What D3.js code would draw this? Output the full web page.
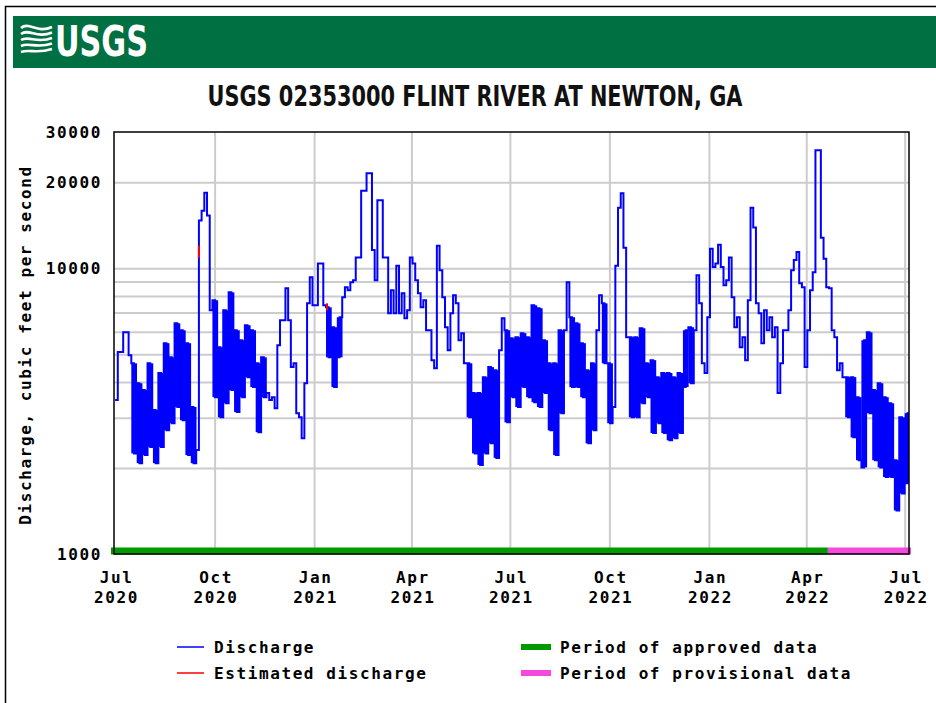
<!DOCTYPE html>
<html>
<head>
<meta charset="utf-8">
<script src="https://cdn.jsdelivr.net/npm/d3@7"></script>
<style>
  body { margin: 0; background: #fff; }
  .mono { font-family: "DejaVu Sans Mono", monospace; font-weight: bold; font-size: 16px; letter-spacing: 1.6px; fill: #000; }
</style>
</head>
<body>
<svg id="chart" width="936" height="703"></svg>
<script>
// discharge, cfs, read every 2.5 days from 1 Jul 2020 (extremes of the daily swings)
const flowStart = "2020-07-01T00:00:00Z";
const flowStepHours = 60;
const flow = [
  3460, 5090, 5090, 5970, 5970, 4960, 4650, 2250, 3960, 2080, 3750, 2220, 4650, 2370, 3190, 2080,
  4300, 2370, 5470, 2710, 4880, 2870, 6420, 3270, 6070, 2940, 5470, 2220, 3270, 2080, 2310, 14700,
  15900, 18400, 15300, 7130, 7730, 3540, 5290, 3010, 7130, 3370, 8240, 3750, 6070, 3140, 5600, 3540,
  6320, 4160, 6070, 3840, 4650, 2670, 4880, 3540, 3660, 3460, 3540, 3240, 5380, 6580, 6580, 8510,
  6580, 4510, 4650, 3110, 3010, 2540, 3960, 7540, 9300, 7420, 7420, 10400, 10400, 7420, 7300, 4880,
  6220, 3840, 4880, 6740, 7920, 8580, 8380, 8930, 9080, 10900, 10900, 18700, 18700, 21500, 21500, 11600,
  9080, 17300, 17300, 10900, 10900, 6960, 8380, 6960, 10200, 6960, 8180, 6690, 7130, 10900, 10400, 9080,
  8180, 7300, 7730, 6070, 6070, 4770, 4470, 12000, 9840, 7920, 6220, 5170, 6960, 8050, 7540, 5600,
  5930, 4650, 4650, 3010, 3660, 2250, 3660, 2050, 4160, 2250, 4510, 2440, 4400, 2170, 5170, 6690,
  6070, 2890, 5690, 3540, 5740, 3270, 5930, 3840, 5740, 3540, 7420, 3400, 7250, 3270, 5600, 3660,
  4650, 2710, 4650, 2220, 6070, 3110, 6070, 8930, 6740, 3840, 6420, 3840, 5470, 3540, 4400, 2440,
  4650, 2710, 6070, 8050, 7540, 4650, 4650, 2870, 3270, 10200, 16300, 18300, 11800, 5740, 5740, 3010,
  5740, 3010, 6170, 3370, 4650, 3540, 4770, 2650, 4160, 2870, 4300, 2650, 4300, 2500, 4160, 2540,
  4300, 2650, 3840, 6070, 6220, 3960, 6070, 9450, 7540, 4650, 4300, 6740, 11700, 10100, 10400, 12100,
  10100, 8720, 9080, 10900, 7920, 6220, 6740, 5290, 5740, 4770, 7730, 16300, 13900, 7540, 6960, 5470,
  7130, 6070, 6740, 5740, 6220, 3660, 4650, 6070, 6070, 7130, 9840, 10700, 11400, 8860, 8580, 4510,
  6070, 8380, 9680, 25900, 25900, 12800, 10800, 8580, 8510, 6070, 5740, 4400, 4650, 4160, 4160, 3010,
  4160, 2560, 3540, 2130, 2010, 5600, 5970, 3110, 3750, 2130, 3960, 2010, 3540, 1860, 3370, 1860,
  2130, 1420, 3010, 1630, 1770, 3110
];

// stretches where the trace swings up and down every day (drawn solid)
const swingStart = ["2020-07-16", "2020-09-29", "2021-01-12", "2021-05-22", "2021-06-26",
                    "2021-08-25", "2021-09-24", "2021-10-19", "2022-05-07"];
const swingEnd   = ["2020-09-14", "2020-11-18", "2021-01-27", "2021-06-21", "2021-08-20",
                    "2021-09-19", "2021-10-04", "2021-12-18", "2022-07-05"];

// estimated discharge (short red pieces)
const estimatedTimes = ["2020-09-16T12:00:00Z", "2021-01-12T22:00:00Z"];
const estimatedFrom = [10900, 7130];
const estimatedTo = [12000, 7540];

// data approval periods
const periodNames = ["approved", "provisional"];
const periodStart = ["2020-06-30T00:00:00Z", "2022-04-21T00:00:00Z"];
const periodEnd = ["2022-04-21T00:00:00Z", "2022-07-05T00:00:00Z"];

const xDomain = ["2020-06-30T00:00:00Z", "2022-07-05T00:00:00Z"];
const yDomain = [1000, 30000];
const yLabelTicks = [1000, 10000, 20000, 30000];
const yGridTicks = [2000, 3000, 4000, 5000, 6000, 7000, 8000, 9000, 10000, 20000];
const quarterTicks = ["2020-07-01", "2020-10-01", "2021-01-01", "2021-04-01", "2021-07-01",
                      "2021-10-01", "2022-01-01", "2022-04-01", "2022-07-01"];

const title = "USGS 02353000 FLINT RIVER AT NEWTON, GA";
const yTitle = "Discharge, cubic feet per second";
const lineLegend = ["Discharge", "Estimated discharge"];
const barLegend = ["Period of approved data", "Period of provisional data"];

const colors = {
    flow: "#0000ff",
    estimated: "#ff0000",
    approved: "#009a00",
    provisional: "#f548dc",
    grid: "#cccccc",
    banner: "#006f41"
};

const parse = d3.isoParse;
const utcDay = s => parse(s + "T00:00:00Z");
const plot = { left: 114, right: 909, top: 132, bottom: 554 };

const svg = d3.select("#chart");

// page frame + banner
svg.append("rect")
    .attr("x", 5.5).attr("y", 6.5)
    .attr("width", 960).attr("height", 720)
    .attr("fill", "#fff")
    .attr("stroke", "#000")
    .attr("stroke-width", 1.5);

svg.append("rect")
    .attr("x", 13).attr("y", 16)
    .attr("width", 930).attr("height", 52)
    .attr("fill", colors.banner);

const logo = svg.append("g").attr("transform", "translate(21,26)");
[0, 6, 12, 18, 24].forEach((k, i) => {
    logo.append("path")
        .attr("d", "M0," + (k + 2) + " C8," + (k - 5 + i) + " 16," + (k + 8 - i) + " 31," + (k + 1 - i * 0.5))
        .attr("fill", "none")
        .attr("stroke", "#fff")
        .attr("stroke-width", 2.6);
});
svg.append("text")
    .attr("x", 55).attr("y", 56)
    .attr("textLength", 93)
    .attr("lengthAdjust", "spacingAndGlyphs")
    .style("font-family", "'Liberation Sans Narrow', 'DejaVu Sans Condensed', sans-serif")
    .style("font-weight", "bold")
    .style("font-size", "42px")
    .attr("fill", "#fff")
    .text("USGS");

svg.append("text")
    .attr("x", 475).attr("y", 106)
    .attr("text-anchor", "middle")
    .attr("textLength", 535)
    .attr("lengthAdjust", "spacingAndGlyphs")
    .style("font-family", "'Liberation Sans Narrow', 'DejaVu Sans Condensed', sans-serif")
    .style("font-size", "28px")
    .style("font-weight", "bold")
    .attr("fill", "#111")
    .text(title);

// scales
const x = d3.scaleUtc()
    .domain(xDomain.map(parse))
    .range([plot.left, plot.right]);
const y = d3.scaleLog()
    .domain(yDomain)
    .range([plot.bottom, plot.top]);

// grid
svg.append("g")
    .attr("transform", "translate(0," + plot.bottom + ")")
    .call(d3.axisBottom(x)
        .tickValues(quarterTicks.slice(1).map(utcDay))
        .tickSize(-(plot.bottom - plot.top))
        .tickFormat(""))
    .call(g => g.select(".domain").remove())
    .call(g => g.selectAll("line").attr("stroke", colors.grid).attr("stroke-width", 2));

svg.append("g")
    .attr("transform", "translate(" + plot.left + ",0)")
    .call(d3.axisLeft(y)
        .tickValues(yGridTicks)
        .tickSize(-(plot.right - plot.left))
        .tickFormat(""))
    .call(g => g.select(".domain").remove())
    .call(g => g.selectAll("line").attr("stroke", colors.grid).attr("stroke-width", 2));

// discharge
svg.append("clipPath").attr("id", "clip")
    .append("rect")
    .attr("x", plot.left).attr("y", plot.top)
    .attr("width", plot.right - plot.left).attr("height", plot.bottom - plot.top);

const t0 = parse(flowStart);
const points = flow.map((v, i) => ({ t: d3.utcHour.offset(t0, i * flowStepHours), v: v }));
points.push({ t: parse(xDomain[1]), v: flow[flow.length - 1] });

const swings = swingStart.map((s, i) => [utcDay(s), utcDay(swingEnd[i])]);
const inSwing = t => swings.some(p => t >= p[0] && t < p[1]);

// one solid block per 5-day window inside the swing stretches
const blocks = d3.range(0, flow.length, 2)
    .map(i => ({
        t0: points[i].t,
        t1: points[i + 2].t,
        lo: Math.min(flow[i], flow[i + 1]),
        hi: Math.max(flow[i], flow[i + 1])
    }))
    .filter(d => inSwing(d.t0));

const flowG = svg.append("g").attr("clip-path", "url(#clip)");

flowG.append("g")
    .selectAll("rect")
    .data(blocks)
    .join("rect")
    .attr("x", d => x(d.t0))
    .attr("width", d => x(d.t1) - x(d.t0) + 0.3)
    .attr("y", d => y(d.hi))
    .attr("height", d => y(d.lo) - y(d.hi))
    .attr("fill", colors.flow);

flowG.append("path")
    .datum(points)
    .attr("fill", "none")
    .attr("stroke", colors.flow)
    .attr("stroke-width", 2)
    .attr("d", d3.line()
        .x(d => x(d.t))
        .y(d => y(d.v))
        .curve(d3.curveStepAfter));

svg.append("g")
    .selectAll("line")
    .data(estimatedTimes.map((t, i) => ({ t: parse(t), a: estimatedFrom[i], b: estimatedTo[i] })))
    .join("line")
    .attr("x1", d => x(d.t)).attr("x2", d => x(d.t))
    .attr("y1", d => y(d.a)).attr("y2", d => y(d.b))
    .attr("stroke", colors.estimated)
    .attr("stroke-width", 2);

// approval bar on the bottom axis
svg.append("g")
    .selectAll("rect")
    .data(periodNames.map((n, i) => ({ n: n, s: parse(periodStart[i]), e: parse(periodEnd[i]), i: i })))
    .join("rect")
    .attr("x", d => x(d.s) - (d.i === 0 ? 3 : 0))
    .attr("width", d => x(d.e) - x(d.s) + (d.i === 0 ? 3 : 2))
    .attr("y", plot.bottom - 6.5)
    .attr("height", 7)
    .attr("fill", d => colors[d.n]);

// frame
svg.append("rect")
    .attr("x", plot.left).attr("y", plot.top)
    .attr("width", plot.right - plot.left).attr("height", plot.bottom - plot.top)
    .attr("fill", "none")
    .attr("stroke", "#000")
    .attr("stroke-width", 1.5);

// axis labels
const yAxis = svg.append("g")
    .attr("transform", "translate(" + plot.left + ",0)")
    .call(d3.axisLeft(y)
        .tickValues(yLabelTicks)
        .tickSize(0)
        .tickPadding(12)
        .tickFormat(d3.format("d")));
yAxis.select(".domain").remove();
yAxis.selectAll("text").attr("class", "mono").attr("font-family", null).attr("font-size", null);

const monthFmt = d3.utcFormat("%b");
const yearFmt = d3.utcFormat("%Y");
const xAxis = svg.append("g")
    .attr("transform", "translate(0," + plot.bottom + ")")
    .call(d3.axisBottom(x)
        .tickValues(quarterTicks.map(utcDay))
        .tickSize(0)
        .tickFormat(""));
xAxis.select(".domain").remove();
xAxis.selectAll(".tick").each(function (d) {
    const tx = d3.select(this).append("text")
        .attr("class", "mono")
        .attr("text-anchor", "middle")
        .attr("x", 1);
    tx.append("tspan").attr("x", 1).attr("y", 29).text(monthFmt(d));
    tx.append("tspan").attr("x", 1).attr("y", 49).text(yearFmt(d));
});

svg.append("text")
    .attr("class", "mono")
    .attr("transform", "translate(31," + ((plot.top + plot.bottom) / 2 + 2) + ") rotate(-90)")
    .attr("text-anchor", "middle")
    .text(yTitle);

// legend
const legend = svg.append("g");
const lineColors = [colors.flow, colors.estimated];
lineLegend.forEach((label, i) => {
    const ly = 647 + i * 26;
    legend.append("line")
        .attr("x1", 177).attr("x2", 204)
        .attr("y1", ly).attr("y2", ly)
        .attr("stroke", lineColors[i])
        .attr("stroke-width", 1.5);
    legend.append("text")
        .attr("class", "mono")
        .attr("x", 214).attr("y", ly + 6)
        .text(label);
});
const barColors = [colors.approved, colors.provisional];
barLegend.forEach((label, i) => {
    const ly = 647 + i * 26;
    legend.append("rect")
        .attr("x", 521).attr("y", ly - 3)
        .attr("width", 30).attr("height", 6)
        .attr("fill", barColors[i]);
    legend.append("text")
        .attr("class", "mono")
        .attr("x", 560).attr("y", ly + 6)
        .text(label);
});
</script>
</body>
</html>
